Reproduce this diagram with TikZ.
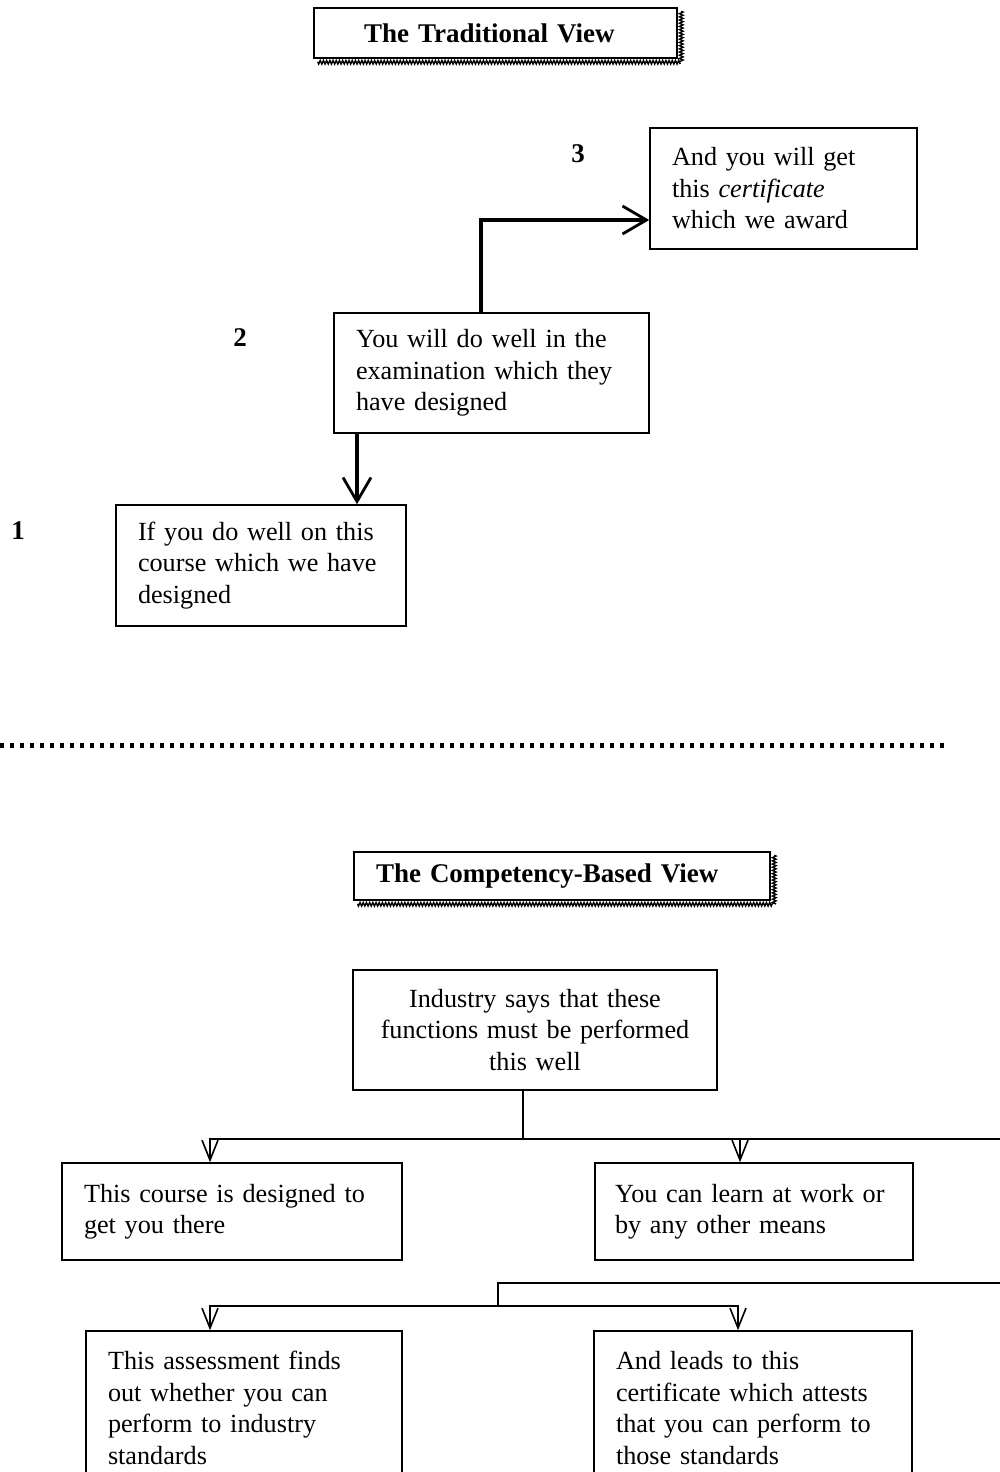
\documentclass[tikz,border=0pt]{standalone}
\usepackage{fontspec}
\setmainfont{Liberation Serif}
\usetikzlibrary{arrows.meta}
\usetikzlibrary{decorations.pathmorphing}

\tikzset{
  box/.style={draw, line width=0.75pt, inner xsep=11pt, inner ysep=0pt, align=left,
    font=\fontsize{13.1}{15.75}\selectfont},
  title/.style={box, font=\fontsize{13.5}{15.75}\selectfont\bfseries},
  num/.style={font=\fontsize{13.5}{15.75}\selectfont\bfseries},
  shadow/.style={decorate, decoration={zigzag, amplitude=0.9pt, segment length=1.6pt}, line width=0.7pt},
  bigarrow/.style={line width=1.7pt, -{Straight Barb[length=12pt, width=14pt, line width=1.4pt]}},
  link/.style={line width=0.8pt},
  smallarrow/.style={link, -{Straight Barb[length=10pt, width=8pt, line width=0.8pt]}},
}

\begin{document}
\begin{tikzpicture}[x=0.5pt, y=-0.5pt]
        \useasboundingbox (0,0) rectangle (1000,1472);
        \clip (0,0) rectangle (1000,1472);

        % the traditional view
        \node[title, inner xsep=25pt, text width=131.5pt, minimum height=25pt] (t1) at (495.5,33) {The Traditional View};
        \draw[shadow] ([shift={(3.5,4)}]t1.north east) -- ([shift={(3.5,3.5)}]t1.south east) -- ([shift={(4,3.5)}]t1.south west);

        \node[box, text width=111.5pt, minimum height=60.5pt] (3) at (783.5,188.5) {And you will get\\ this \textit{certificate}\\ which we award};
        \node[box, text width=135.5pt, minimum height=60pt] (2) at (491.5,373) {You will do well in the\\ examination which they\\ have designed};
        \node[box, text width=123pt, minimum height=60.5pt] (1) at (261,565.5) {If you do well on this\\ course which we have\\ designed};

        \node[num] (n3) at (578,154) {3};
        \node[num] (n2) at (240,338) {2};
        \node[num] (n1) at (18,531) {1};

        \draw[bigarrow] ([xshift=-5.25pt]2.north) |- ([yshift=-15.75pt]3.west);
        \draw[bigarrow] ([xshift=-67.25pt]2.south) -- ([xshift=-67.25pt]2.south |- 1.north);

        % separator
        \draw[line width=2.5pt, dash pattern=on 2pt off 3pt] (0,745) -- (945,745);

        % the competency-based view
        \node[title, text width=186pt, minimum height=24pt] (t2) at (562,876) {The Competency-Based View};
        \draw[shadow] ([shift={(3.5,4)}]t2.north east) -- ([shift={(3.5,3.5)}]t2.south east) -- ([shift={(4,3.5)}]t2.south west);

        \node[box, align=center, text width=160pt, minimum height=60pt] (ind) at (535,1030) {Industry says that these\\ functions must be performed\\ this well};
        \node[box, text width=148pt, minimum height=48.5pt] (a) at (232,1211.5) {This course is designed to\\ get you there};
        \node[box, inner xsep=10pt, text width=139pt, minimum height=48.5pt] (b) at (754,1211.5) {You can learn at work or\\ by any other means};
        \node[box, text width=136pt, minimum height=77pt] (c) at (244,1408) {This assessment finds\\ out whether you can\\ perform to industry\\ standards};
        \node[box, text width=137pt, minimum height=77pt] (d) at (753,1408) {And leads to this\\ certificate which attests\\ that you can perform to\\ those standards};

        \draw[link] ([xshift=-6pt]ind.south) -- ++(0,48) coordinate (j1) -- ++(600,0);
        \draw[smallarrow] (j1) -| ([xshift=-11pt]a.north);
        \draw[smallarrow] (j1) -| ([xshift=-7pt]b.north);

        \coordinate (j2) at (498,1306);
        \draw[link] (j2) -- ++(0,-23) -- ++(600,0);
        \draw[smallarrow] (j2) -| ([xshift=-17pt]c.north);
        \draw[smallarrow] (j2) -| ([xshift=-7.5pt]d.north);
      \end{tikzpicture}
\end{document}
